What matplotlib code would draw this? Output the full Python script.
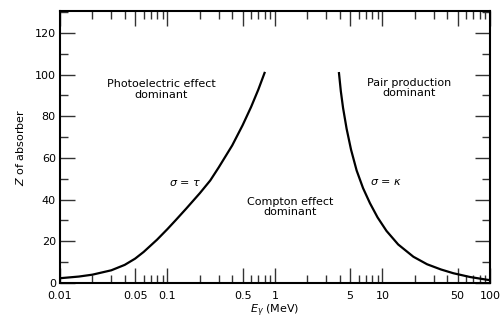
import numpy as np
import matplotlib.pyplot as plt
from matplotlib.ticker import FixedLocator, NullFormatter

# sigma = tau boundary (photoelectric / Compton)
e_left = [0.01, 0.015, 0.02, 0.03, 0.04, 0.05, 0.06, 0.08, 0.1, 0.12,
          0.15, 0.2, 0.25, 0.3, 0.4, 0.5, 0.6, 0.7, 0.8]
z_left = [2.3, 3.1, 4.0, 6.1, 8.7, 11.7, 14.9, 20.8, 25.9, 30.3,
          35.8, 43.1, 49.2, 55.5, 66.0, 75.7, 84.5, 92.8, 100.8]

# sigma = kappa boundary (Compton / pair production)
e_right = [3.94, 4.1, 4.3, 4.64, 5.1, 5.75, 6.6, 7.65, 9.0, 10.9, 14.0,
           19.4, 26.0, 35.0, 45.6, 65.0, 93.0, 100.0]
z_right = [100.7, 92.0, 84.0, 74.0, 64.0, 54.0, 45.5, 38.3, 31.5, 25.0, 18.5,
           12.6, 9.0, 6.5, 4.7, 2.9, 1.6, 1.4]

x_major = [0.01, 0.05, 0.1, 0.5, 1, 5, 10, 50, 100]
x_labels = ['0.01', '0.05', '0.1', '0.5', '1', '5', '10', '50', '100']
x_minor = [m * d for d in [0.01, 0.1, 1, 10] for m in [2, 3, 4, 6, 7, 8, 9]]
y_major = [0, 20, 40, 60, 80, 100, 120]

fig = plt.figure(figsize=(5.02, 3.24), dpi=100)
ax = fig.add_axes([0.1195, 0.1265, 0.8565, 0.8395])

ax.plot(e_left, z_left, color='black', lw=1.6, solid_joinstyle='round')
ax.plot(e_right, z_right, color='black', lw=1.6, solid_joinstyle='round')

ax.set_xscale('log')
ax.set_xlim(0.01, 100)
ax.set_ylim(0, 130.5)

ax.xaxis.set_major_locator(FixedLocator(x_major))
ax.set_xticklabels(x_labels)
ax.xaxis.set_minor_locator(FixedLocator(x_minor))
ax.xaxis.set_minor_formatter(NullFormatter())
ax.set_yticks(y_major)
ax.yaxis.set_minor_locator(FixedLocator(list(range(10, 131, 20))))

ax.tick_params(which='both', direction='in', top=True, right=True,
               labelsize=8, width=1.0, color='#333333')
ax.tick_params(axis='x', which='major', length=11, pad=6)
ax.tick_params(axis='x', which='minor', length=6)
ax.tick_params(axis='y', which='major', length=11, pad=3)
ax.tick_params(axis='y', which='minor', length=6)
for s in ax.spines.values():
    s.set_linewidth(1.5)

ax.set_xlabel(r'$E_\gamma$ (MeV)', fontsize=8, labelpad=1)
ax.set_ylabel(r'$Z$ of absorber', fontsize=8, labelpad=6)

ax.text(0.087, 93, 'Photoelectric effect\ndominant', fontsize=8,
        ha='center', va='center', linespacing=1.1)
ax.text(1.38, 36.5, 'Compton effect\ndominant', fontsize=8,
        ha='center', va='center', linespacing=1.1)
ax.text(17.7, 93.6, 'Pair production\ndominant', fontsize=8,
        ha='center', va='center', linespacing=1.1)
ax.text(0.146, 48, r'$\sigma$ = $\tau$', fontsize=8, ha='center', va='center')
ax.text(10.8, 48.5, r'$\sigma$ = $\kappa$', fontsize=8, ha='center', va='center')

fig.savefig('out.png', dpi=100)
